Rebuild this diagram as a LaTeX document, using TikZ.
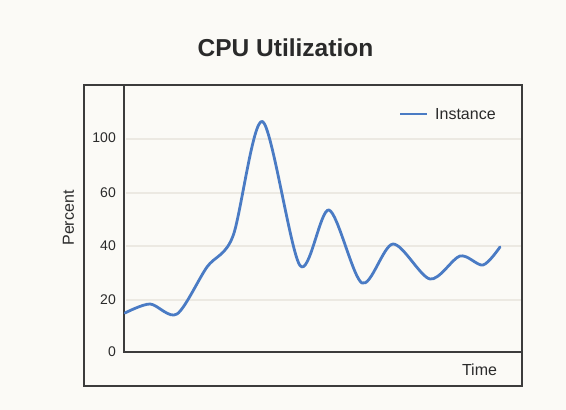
\documentclass[tikz,border=0pt]{standalone}
\usepackage{fontspec}
\setmainfont{Liberation Sans}
\usepackage{tikz}
\usetikzlibrary{calc}

\definecolor{paper}{HTML}{FBFAF6}
\definecolor{frame}{HTML}{3C3C3C}
\definecolor{grid}{HTML}{ECE9E2}
\definecolor{cpublue}{HTML}{4A7BC4}
\definecolor{ink}{HTML}{2A2A2A}

\tikzset{
	ticklabel/.style={anchor=east, inner sep=0pt, text=ink, font=\fontsize{14}{14}\selectfont},
	axislabel/.style={inner sep=0pt, text=ink, font=\fontsize{16}{16}\selectfont},
	gridline/.style={grid, line width=1.4pt},
}

\begin{document}
\begin{tikzpicture}[x=1pt, y=-1pt]
		\fill[paper] (0, 0) rectangle (566, 410);
		\useasboundingbox (0, 0) rectangle (566, 410);

		\node[inner sep=0pt, text=ink, font=\fontsize{24.5}{24.5}\selectfont\bfseries] (title) at (285.5, 48) {CPU Utilization};

		% grid
		\draw[gridline] (126, 139) -- (521, 139);
		\draw[gridline] (126, 193) -- (521, 193);
		\draw[gridline] (126, 246) -- (521, 246);
		\draw[gridline] (126, 300) -- (521, 300);

		% tick labels
		\node[ticklabel] (y100) at (116, 138) {100};
		\node[ticklabel] (y60) at (116, 193) {60};
		\node[ticklabel] (y40) at (116, 246) {40};
		\node[ticklabel] (y20) at (116, 300) {20};
		\node[ticklabel] (y0) at (116, 352) {0};

		\node[axislabel, rotate=90] (percent) at (68.5, 218) {Percent};
		\node[axislabel] (time) at (479.5, 370) {Time};

		% legend
		\draw[cpublue, line width=2.6pt] (400, 114) -- (427, 114);
		\node[axislabel, anchor=west] (instance) at (435, 114) {Instance};

		% axes
		\draw[frame, line width=1.5pt] (124, 85) -- (124, 352) -- (522, 352);

		% data
		\draw[cpublue, line width=2.8pt, line join=round, line cap=round]
			plot[smooth, tension=0.5] coordinates {
				(125, 313) (150, 304) (177, 314) (207, 267) (233, 236)
				(262.5, 121.5) (300, 265.5)
				(329, 210) (362, 283) (393, 244) (430, 279) (460, 256)
				(483, 265) (500, 247)};

		% frame
		\draw[frame, line width=1.8pt] (84, 85) rectangle (522, 386);
\end{tikzpicture}
\end{document}
